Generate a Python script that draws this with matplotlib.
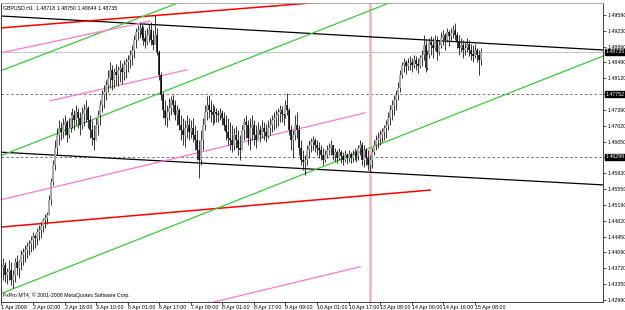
import numpy as np
import matplotlib
matplotlib.use("Agg")
import matplotlib.pyplot as plt

plt.rcParams['font.family'] = ['Liberation Sans', 'DejaVu Sans']

# GBPUSD H1, 1 Apr 2009 -> 15 Apr 2009 (one value per hourly bar)
highs = [
    1.4391, 1.4395, 1.4386, 1.4372, 1.4391, 1.4386, 1.4367, 1.4395, 1.4402, 1.4391, 1.4414,
    1.4419, 1.4426, 1.4433, 1.4437, 1.4446, 1.4456, 1.4451, 1.4465, 1.4472, 1.4479,
    1.4488, 1.4498, 1.4502, 1.4542, 1.4581, 1.4623, 1.4669, 1.4697, 1.4716, 1.4711,
    1.4720, 1.4727, 1.4716, 1.4720, 1.4734, 1.4743, 1.4739, 1.4750, 1.4743, 1.4734,
    1.4746, 1.4753, 1.4762, 1.4748, 1.4727, 1.4716, 1.4704, 1.4720, 1.4739, 1.4762,
    1.4785, 1.4797, 1.4808, 1.4832, 1.4850, 1.4843, 1.4836, 1.4845, 1.4841, 1.4855,
    1.4848, 1.4855, 1.4859, 1.4866, 1.4878, 1.4890, 1.4913, 1.4929, 1.4936, 1.4943,
    1.4938, 1.4934, 1.4924, 1.4929, 1.4938, 1.4943, 1.4924, 1.4959, 1.4929, 1.4878,
    1.4827, 1.4781, 1.4762, 1.4750, 1.4767, 1.4771, 1.4774, 1.4762, 1.4750, 1.4743,
    1.4727, 1.4720, 1.4716, 1.4727, 1.4720, 1.4716, 1.4720, 1.4704, 1.4692, 1.4669,
    1.4692, 1.4720, 1.4750, 1.4771, 1.4774, 1.4762, 1.4753, 1.4748, 1.4743, 1.4739,
    1.4743, 1.4739, 1.4734, 1.4727, 1.4720, 1.4711, 1.4704, 1.4697, 1.4702, 1.4692,
    1.4681, 1.4704, 1.4720, 1.4727, 1.4716, 1.4720, 1.4727, 1.4716, 1.4704, 1.4711,
    1.4704, 1.4716, 1.4711, 1.4706, 1.4716, 1.4720, 1.4727, 1.4734, 1.4739, 1.4743,
    1.4750, 1.4748, 1.4743, 1.4762, 1.4778, 1.4743, 1.4704, 1.4692, 1.4727, 1.4734,
    1.4704, 1.4669, 1.4646, 1.4634, 1.4658, 1.4669, 1.4674, 1.4678, 1.4674, 1.4669,
    1.4665, 1.4658, 1.4651, 1.4646, 1.4658, 1.4662, 1.4669, 1.4658, 1.4651, 1.4646,
    1.4651, 1.4646, 1.4641, 1.4646, 1.4639, 1.4646, 1.4641, 1.4646, 1.4651, 1.4646,
    1.4658, 1.4669, 1.4665, 1.4658, 1.4651, 1.4646, 1.4634, 1.4651, 1.4669, 1.4681,
    1.4688, 1.4692, 1.4697, 1.4704, 1.4716, 1.4734, 1.4750, 1.4762, 1.4774, 1.4785,
    1.4804, 1.4832, 1.4850, 1.4859, 1.4855, 1.4859, 1.4864, 1.4859, 1.4866, 1.4864,
    1.4859, 1.4866, 1.4878, 1.4913, 1.4901, 1.4878, 1.4906, 1.4910, 1.4906, 1.4913,
    1.4910, 1.4901, 1.4920, 1.4924, 1.4917, 1.4929, 1.4924, 1.4929, 1.4936, 1.4941,
    1.4920, 1.4913, 1.4906, 1.4901, 1.4897, 1.4906, 1.4901, 1.4892, 1.4890, 1.4892,
    1.4883, 1.4878, 1.4883,
]
lows = [
    1.4349, 1.4344, 1.4340, 1.4335, 1.4344, 1.4333, 1.4326, 1.4340, 1.4356, 1.4349, 1.4367,
    1.4379, 1.4386, 1.4395, 1.4402, 1.4409, 1.4414, 1.4419, 1.4426, 1.4437, 1.4442,
    1.4456, 1.4465, 1.4474, 1.4495, 1.4518, 1.4565, 1.4600, 1.4634, 1.4658, 1.4669,
    1.4674, 1.4681, 1.4665, 1.4674, 1.4688, 1.4697, 1.4692, 1.4704, 1.4697, 1.4681,
    1.4695, 1.4702, 1.4711, 1.4697, 1.4674, 1.4658, 1.4646, 1.4669, 1.4681, 1.4704,
    1.4734, 1.4743, 1.4762, 1.4781, 1.4790, 1.4785, 1.4790, 1.4797, 1.4795, 1.4804,
    1.4799, 1.4808, 1.4813, 1.4827, 1.4836, 1.4843, 1.4859, 1.4883, 1.4901, 1.4906,
    1.4901, 1.4890, 1.4883, 1.4890, 1.4897, 1.4890, 1.4878, 1.4901, 1.4866, 1.4808,
    1.4762, 1.4720, 1.4704, 1.4699, 1.4716, 1.4727, 1.4734, 1.4716, 1.4704, 1.4692,
    1.4669, 1.4658, 1.4653, 1.4674, 1.4669, 1.4674, 1.4665, 1.4646, 1.4623, 1.4581,
    1.4611, 1.4646, 1.4692, 1.4716, 1.4720, 1.4711, 1.4704, 1.4709, 1.4711, 1.4711,
    1.4716, 1.4704, 1.4692, 1.4669, 1.4658, 1.4646, 1.4641, 1.4646, 1.4651, 1.4634,
    1.4623, 1.4646, 1.4669, 1.4674, 1.4658, 1.4646, 1.4669, 1.4658, 1.4651, 1.4669,
    1.4665, 1.4674, 1.4669, 1.4665, 1.4674, 1.4681, 1.4688, 1.4692, 1.4697, 1.4702,
    1.4711, 1.4711, 1.4704, 1.4720, 1.4727, 1.4681, 1.4646, 1.4627, 1.4669, 1.4674,
    1.4634, 1.4611, 1.4600, 1.4588, 1.4611, 1.4627, 1.4641, 1.4646, 1.4641, 1.4634,
    1.4627, 1.4623, 1.4611, 1.4618, 1.4627, 1.4634, 1.4634, 1.4623, 1.4618, 1.4616,
    1.4623, 1.4616, 1.4611, 1.4618, 1.4614, 1.4618, 1.4616, 1.4618, 1.4623, 1.4618,
    1.4623, 1.4634, 1.4611, 1.4607, 1.4611, 1.4600, 1.4595, 1.4604, 1.4634, 1.4646,
    1.4651, 1.4658, 1.4665, 1.4669, 1.4674, 1.4692, 1.4704, 1.4716, 1.4727, 1.4739,
    1.4762, 1.4781, 1.4813, 1.4827, 1.4822, 1.4832, 1.4832, 1.4827, 1.4836, 1.4832,
    1.4825, 1.4836, 1.4841, 1.4855, 1.4827, 1.4832, 1.4859, 1.4866, 1.4859, 1.4878,
    1.4855, 1.4866, 1.4883, 1.4890, 1.4878, 1.4897, 1.4887, 1.4901, 1.4906, 1.4901,
    1.4883, 1.4866, 1.4873, 1.4859, 1.4866, 1.4873, 1.4864, 1.4855, 1.4850, 1.4859,
    1.4850, 1.4820, 1.4843,
]
closes = [
    1.4372, 1.4379, 1.4356, 1.4363, 1.4367, 1.4344, 1.4356, 1.4386, 1.4372, 1.4386, 1.4402,
    1.4409, 1.4414, 1.4423, 1.4428, 1.4437, 1.4446, 1.4442, 1.4456, 1.4460, 1.4470,
    1.4484, 1.4488, 1.4495, 1.4530, 1.4572, 1.4611, 1.4651, 1.4681, 1.4697, 1.4688,
    1.4704, 1.4711, 1.4681, 1.4697, 1.4720, 1.4727, 1.4716, 1.4734, 1.4720, 1.4704,
    1.4730, 1.4739, 1.4743, 1.4716, 1.4692, 1.4674, 1.4669, 1.4704, 1.4727, 1.4750,
    1.4774, 1.4781, 1.4797, 1.4813, 1.4832, 1.4808, 1.4827, 1.4820, 1.4832, 1.4836,
    1.4827, 1.4843, 1.4850, 1.4855, 1.4866, 1.4878, 1.4901, 1.4920, 1.4924, 1.4929,
    1.4913, 1.4906, 1.4897, 1.4913, 1.4924, 1.4901, 1.4890, 1.4913, 1.4873, 1.4820,
    1.4774, 1.4739, 1.4720, 1.4734, 1.4743, 1.4762, 1.4750, 1.4727, 1.4739, 1.4704,
    1.4692, 1.4681, 1.4697, 1.4704, 1.4688, 1.4697, 1.4681, 1.4669, 1.4646, 1.4623,
    1.4669, 1.4704, 1.4734, 1.4750, 1.4739, 1.4734, 1.4727, 1.4734, 1.4730, 1.4727,
    1.4732, 1.4720, 1.4704, 1.4688, 1.4674, 1.4669, 1.4658, 1.4681, 1.4669, 1.4651,
    1.4646, 1.4692, 1.4711, 1.4704, 1.4674, 1.4697, 1.4704, 1.4681, 1.4669, 1.4692,
    1.4681, 1.4697, 1.4688, 1.4678, 1.4697, 1.4704, 1.4716, 1.4720, 1.4727, 1.4734,
    1.4739, 1.4730, 1.4727, 1.4750, 1.4739, 1.4692, 1.4669, 1.4681, 1.4704, 1.4692,
    1.4651, 1.4623, 1.4618, 1.4623, 1.4646, 1.4658, 1.4665, 1.4669, 1.4658, 1.4651,
    1.4646, 1.4634, 1.4623, 1.4634, 1.4646, 1.4651, 1.4658, 1.4634, 1.4641, 1.4627,
    1.4641, 1.4632, 1.4623, 1.4634, 1.4627, 1.4637, 1.4627, 1.4634, 1.4641, 1.4632,
    1.4651, 1.4658, 1.4623, 1.4646, 1.4627, 1.4611, 1.4623, 1.4641, 1.4658, 1.4669,
    1.4674, 1.4681, 1.4688, 1.4697, 1.4704, 1.4720, 1.4739, 1.4750, 1.4762, 1.4774,
    1.4790, 1.4820, 1.4843, 1.4850, 1.4841, 1.4848, 1.4850, 1.4843, 1.4855, 1.4845,
    1.4841, 1.4859, 1.4866, 1.4890, 1.4836, 1.4866, 1.4897, 1.4890, 1.4883, 1.4901,
    1.4873, 1.4890, 1.4906, 1.4913, 1.4901, 1.4920, 1.4910, 1.4917, 1.4924, 1.4913,
    1.4897, 1.4883, 1.4890, 1.4878, 1.4883, 1.4892, 1.4878, 1.4869, 1.4864, 1.4878,
    1.4866, 1.4855, 1.4873,
]

time_labels = ['1 Apr 2009', '2 Apr 02:00', '2 Apr 18:00', '3 Apr 10:00', '6 Apr 01:00',
               '6 Apr 17:00', '7 Apr 09:00', '8 Apr 01:00', '8 Apr 17:00', '9 Apr 09:00',
               '10 Apr 01:00', '10 Apr 17:00', '13 Apr 08:00', '14 Apr 00:00',
               '14 Apr 16:00', '15 Apr 08:00']
price_ticks = [1.4959, 1.4923, 1.4886, 1.4849, 1.4812, 1.4775, 1.4739, 1.4702, 1.4665,
               1.4629, 1.4592, 1.4555, 1.4519, 1.4482, 1.4445, 1.4409, 1.4372, 1.4335, 1.4299]

# trend lines: (bar, price) endpoints
trend_lines = [
    ('black',   (-0.8, 1.4957), (305.0, 1.4878)),
    ('black',   (-0.8, 1.4641), (305.0, 1.4565)),
    ('red',     (-0.8, 1.4929), (165.0, 1.4990)),
    ('red',     (-0.8, 1.4467), (217.3, 1.4553)),
    ('green',   (-0.8, 1.4829), (90.5, 1.4989)),
    ('green',   (-0.8, 1.4632), (196.5, 1.4987)),
    ('green',   (-0.8, 1.4312), (305.0, 1.4864)),
    ('pink',    (-0.8, 1.4871), (75.3, 1.4945)),
    ('pink',    (24.6, 1.4760), (94.1, 1.4832)),
    ('pink',    (-0.8, 1.4530), (184.3, 1.4732)),
    ('pink',    (107.3, 1.4293), (181.8, 1.4375)),
]
vline_bar = 187
levels = [1.47752, 1.46299]
bid = 1.48735
header = 'GBPUSD,H1  1.48718 1.48750 1.48644 1.48735'
copyright_text = 'FxPro MT4, \u00a9 2001-2008 MetaQuotes Software Corp.'

line_colors = {'black': '#000000', 'red': '#ff0000', 'green': '#3cc83c', 'pink': '#ff78c8'}

fig = plt.figure(figsize=(6.25, 3.1), dpi=100)
ax = fig.add_axes([1.5 / 625, 1 - 301.5 / 310, 601.5 / 625, 298.5 / 310])
ax.set_xlim(0, 305)
ax.set_ylim(1.42945, 1.4987)

n = len(closes)
idx = np.arange(n)
closes_a = np.array(closes)
opens = np.r_[closes_a[0], closes_a[:-1]]
bull = closes_a >= opens

ax.axhline(bid, color='#c8c8c8', lw=0.8, zorder=1)
for lv in levels:
    ax.axhline(lv, color='#707070', lw=0.7, ls=(0, (2.5, 2.5)), zorder=1)
ax.axvline(vline_bar, color='#f8b8b8', lw=2.0, zorder=1)

ax.vlines(idx, lows, highs, color='#282828', lw=0.65, zorder=3)
ax.vlines(idx[bull], opens[bull], closes_a[bull], color='#a8a8a8', lw=1.4, zorder=3)
ax.vlines(idx[~bull], opens[~bull], closes_a[~bull], color='#000000', lw=1.1, zorder=4)

for name, p0, p1 in trend_lines:
    lw = 1.1 if name == 'red' else 0.9
    ax.plot([p0[0], p1[0]], [p0[1], p1[1]], color=line_colors[name], lw=lw, zorder=2)

# labels hidden behind the level boxes on the price scale
covered = {1.4775, 1.4629}
fs = 3.8
ax.yaxis.tick_right()
ax.set_yticks(price_ticks)
ax.set_yticklabels(['' if p in covered else f'{p:.5f}' for p in price_ticks])
ax.tick_params(axis='y', direction='out', length=2, width=0.5, pad=1, labelsize=fs,
               colors='#000000')
ax.set_xticks(np.arange(0, 16 * len(time_labels), 16))
ax.set_xticklabels(time_labels, ha='left')
ax.tick_params(axis='x', direction='out', length=2, width=0.5, pad=0.8, labelsize=fs)

for side in ['left', 'right', 'bottom']:
    ax.spines[side].set_color('#404040')
    ax.spines[side].set_linewidth(0.7)
ax.spines['top'].set_color('#a0a0a0')
ax.spines['top'].set_linewidth(0.6)

for val in [bid] + levels:
    ax.annotate(f'{val:.5f}', xy=(1.0, val), xycoords=('axes fraction', 'data'),
                xytext=(1.6, 0), textcoords='offset points', va='center', ha='left',
                fontsize=fs, color='white', zorder=10, annotation_clip=False,
                bbox=dict(boxstyle='square,pad=0.12', fc='black', ec='black'))

ax.text(0.002, 0.993, header, transform=ax.transAxes, va='top', ha='left', fontsize=fs)
ax.text(0.002, 0.012, copyright_text, transform=ax.transAxes, va='bottom', ha='left',
        fontsize=fs)

fig.savefig('out.png', dpi=100)
